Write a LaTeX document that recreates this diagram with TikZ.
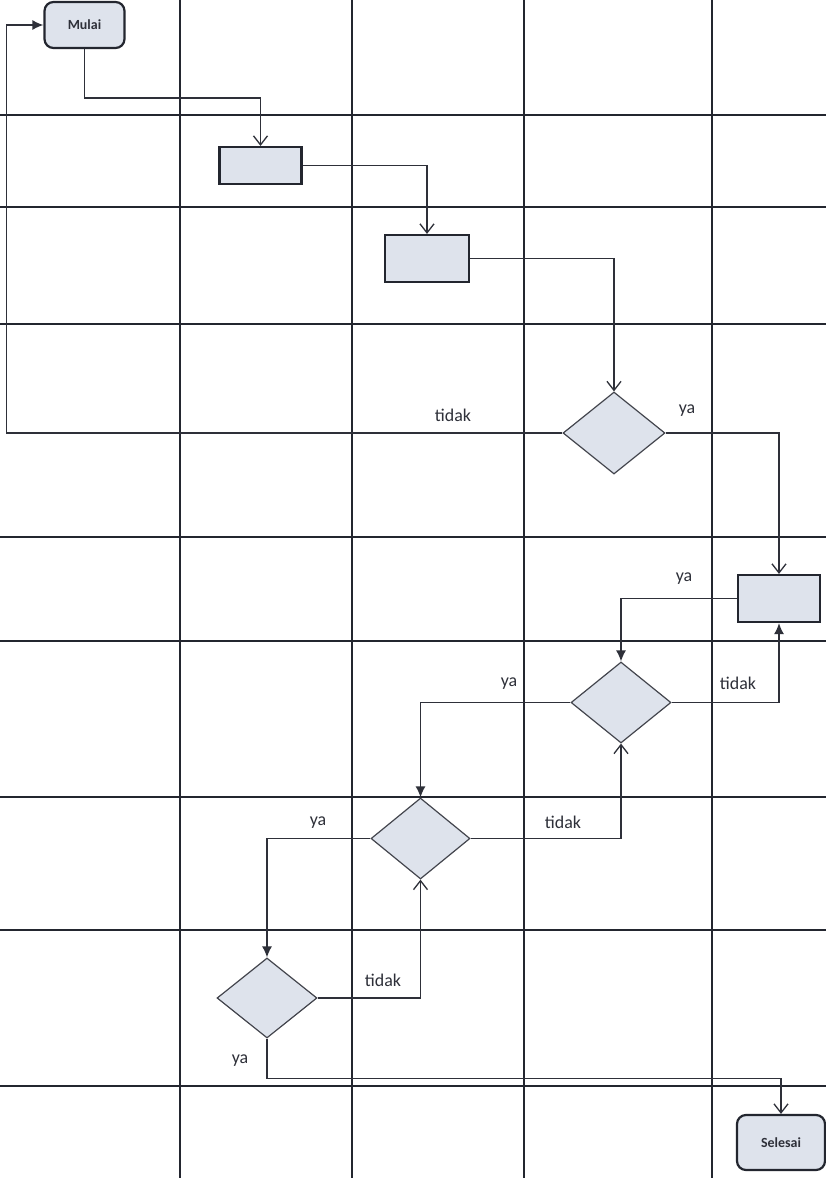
\documentclass[tikz,border=0pt]{standalone}
\usepackage{fontspec}
\setmainfont{Carlito}
\usetikzlibrary{shapes.geometric,arrows.meta}
\definecolor{gridc}{HTML}{23262F}
\definecolor{linec}{HTML}{2E3039}
\definecolor{fillc}{HTML}{DEE3EC}
\tikzset{
  gridline/.style={draw=gridc,line width=1.5bp},
  procbox/.style={rectangle,draw=gridc,line width=2.2bp,fill=fillc,inner sep=0pt},
  termbox/.style={rectangle,rounded corners=9bp,draw=gridc,line width=2.2bp,fill=fillc,inner sep=0pt,font=\fontsize{14}{16}\selectfont\bfseries,text=linec},
  decbox/.style={diamond,draw=linec!90,line width=1.2bp,fill=fillc,inner sep=0pt},
  conn/.style={draw=linec,line width=1.4bp},
  openarr/.style={conn,-{Straight Barb[length=9bp,width=14bp,line width=1.3bp]}},
  fillarr/.style={conn,-{Latex[length=11bp,width=10bp]}},
  lbl/.style={font=\fontsize{18}{21}\selectfont,text=linec,inner sep=0pt}
}
\begin{document}
\begin{tikzpicture}[x=1bp,y=-1bp]
\useasboundingbox (0,0) rectangle (826,1178);
\fill[white] (0,0) rectangle (826,1178);
% grid
\foreach \gx in {180,352,524,712} \draw[gridline] (\gx,0) -- (\gx,1178);
\foreach \gy in {115,207,324,537,641,797,930,1086} \draw[gridline] (0,\gy) -- (826,\gy);
% nodes
\node[termbox,minimum width=80bp,minimum height=46bp] (mulai) at (84.5,25) {Mulai};
\node[procbox,minimum width=82bp,minimum height=37bp] (b1) at (260.5,165.5) {};
\node[procbox,minimum width=84bp,minimum height=47bp] (b2) at (427,258.5) {};
\node[decbox,minimum width=102bp,minimum height=82bp] (d1) at (614,433) {};
\node[procbox,minimum width=82bp,minimum height=47bp] (b3) at (779,598.5) {};
\node[decbox,minimum width=100bp,minimum height=81bp] (d2) at (621,702.5) {};
\node[decbox,minimum width=99bp,minimum height=81bp] (d3) at (420.5,838.5) {};
\node[decbox,minimum width=100bp,minimum height=80bp] (d4) at (267,998) {};
\node[termbox,minimum width=88bp,minimum height=55bp] (selesai) at (781,1142.5) {Selesai};
% connectors
\draw[openarr] (mulai.south) -- ++(0,49) -| (b1.north);
\draw[openarr] (b1.east) -| (b2.north);
\draw[openarr] (b2.east) -| (d1.north);
\draw[fillarr] (d1.west) -- ++(-556,0) |- (mulai.west);
\draw[openarr] (d1.east) -| (b3.north);
\draw[fillarr] (b3.west) -| (d2.north);
\draw[fillarr] (d2.east) -| (b3.south);
\draw[fillarr] (d2.west) -| (d3.north);
\draw[openarr] (d3.east) -| (d2.south);
\draw[fillarr] (d3.west) -| (d4.north);
\draw[openarr] (d4.east) -| (d3.south);
\draw[openarr] (d4.south) -- ++(0,40) -| (selesai.north);
% labels
\node[lbl] (l1) at (453,415) {tidak};
\node[lbl] (l2) at (687,411) {ya};
\node[lbl] (l3) at (684,579) {ya};
\node[lbl] (l4) at (738,683) {tidak};
\node[lbl] (l5) at (509,684) {ya};
\node[lbl] (l6) at (563,822) {tidak};
\node[lbl] (l7) at (318,823) {ya};
\node[lbl] (l8) at (383,980) {tidak};
\node[lbl] (l9) at (240,1061) {ya};
\end{tikzpicture}
\end{document}
